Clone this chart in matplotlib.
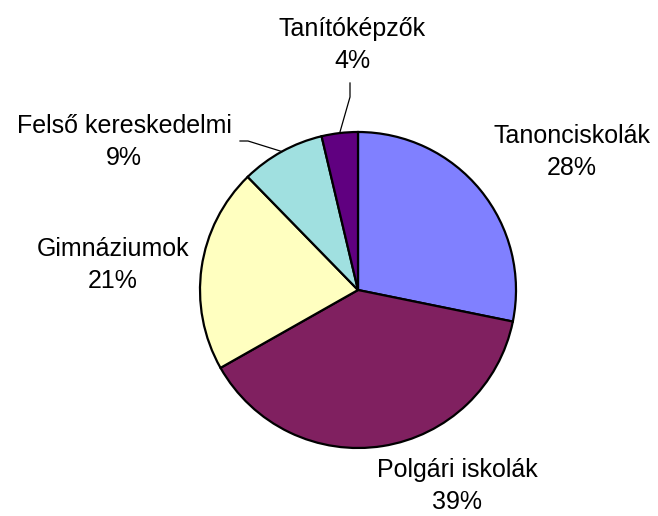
import numpy as np
import matplotlib
matplotlib.use("Agg")
import matplotlib.pyplot as plt

categories = ["Tanonciskolák", "Polgári iskolák", "Gimnáziumok", "Felső kereskedelmi", "Tanítóképzők"]
values = [28.2, 38.6, 20.9, 8.6, 3.7]
colors = ["#8080FF", "#802060", "#FFFFC0", "#A0E0E0", "#600080"]

plt.rcParams['font.family'] = ['Liberation Sans', 'DejaVu Sans']

W, H = 658, 516
fig = plt.figure(figsize=(W / 100, H / 100), dpi=100)
cx, cy, R = 358, 290, 158
ax = fig.add_axes([(cx - R) / W, (H - cy - R) / H, 2 * R / W, 2 * R / H])
wedges, _ = ax.pie(values, colors=colors, startangle=90, counterclock=False,
                   radius=1.0, wedgeprops=dict(edgecolor="black", linewidth=1.6))
ax.set_xlim(-1, 1)
ax.set_ylim(-1, 1)
ax.set_aspect("equal")
ax.axis("off")

total = sum(values)
pcts = [f"{round(v / total * 100)}%" for v in values]

# label text centres in pixel coords (layout)
label_pos = [(572, 152), (457, 486), (113, 265), (124, 142), (352, 45)]
fs = 18
for name, pct, (px, py) in zip(categories, pcts, label_pos):
    fig.text(px / W, 1 - py / H, f"{name}\n{pct}", ha="center", va="center",
             fontsize=fs, linespacing=1.38, color="black")

def arc_point(idx):
    w = wedges[idx]
    mid = np.deg2rad((w.theta1 + w.theta2) / 2)
    return cx + R * np.cos(mid), cy - R * np.sin(mid)

# leader for Tanítóképzők
ex, ey = arc_point(4)
xs = [350, 350, ex]
ys = [83, 97, ey]
fig.add_artist(plt.Line2D([x / W for x in xs], [1 - y / H for y in ys],
                          color="black", lw=0.9))
# leader for Felső kereskedelmi
ex, ey = arc_point(3)
xs = [240, 248, ex]
ys = [141, 141, ey]
fig.add_artist(plt.Line2D([x / W for x in xs], [1 - y / H for y in ys],
                          color="black", lw=0.9))

fig.savefig("out.png", dpi=100, facecolor="white")
